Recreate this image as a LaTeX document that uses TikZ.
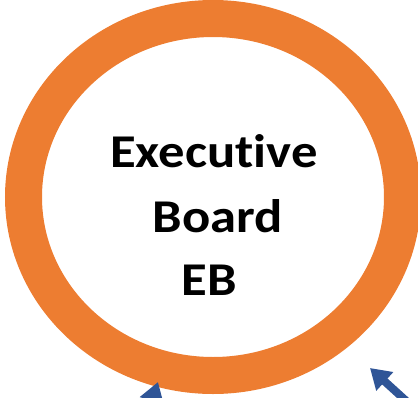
\documentclass[tikz,border=0pt]{standalone}
\usepackage{fontspec}
\setmainfont[Ligatures=NoCommon,FakeStretch=1.12]{Carlito}
\usetikzlibrary{arrows.meta}
\definecolor{ringorange}{HTML}{ED7D31}
\definecolor{arrowblue}{HTML}{2F5597}
\tikzset{
  ebring/.style={draw=ringorange, line width=37pt},
  eblabel/.style={anchor=base, inner sep=0pt, font=\fontsize{47}{55}\selectfont\bfseries},
  ebarrow/.style={draw=arrowblue, line width=8pt, -{Triangle[width=24pt,length=20pt]}}
}
\begin{document}
\begin{tikzpicture}[x=1pt,y=-1pt]
                        \useasboundingbox (0.000000,0.000000) rectangle (418.000000,397.000000);
                        \clip (0.000000,0.000000) rectangle (418.000000,397.000000);

                        % Drawing ring EB
                        \draw [ebring] (213.000000,197.000000) ellipse [x radius=189.500000, y radius=178.500000];%

                        % Marking label lines
                        \node [eblabel] (exec) at (214.000000,167.000000) {Executive};%
                        \node [eblabel] (board) at (218.000000,232.000000) {Board};%
                        \node [eblabel] (eb) at (209.000000,295.000000) {EB};%

                        % Drawing arrow from below left
                        \coordinate (lefttail) at (144.000000,425.000000);
                        \coordinate (lefttip) at (158.000000,382.000000);
                        \draw [ebarrow] (lefttail) -- (lefttip);%

                        % Drawing arrow from below right
                        \coordinate (righttail) at (425.000000,418.000000);
                        \coordinate (righttip) at (370.000000,368.000000);
                        \draw [ebarrow] (righttail) -- (righttip);%
\end{tikzpicture}
\end{document}
